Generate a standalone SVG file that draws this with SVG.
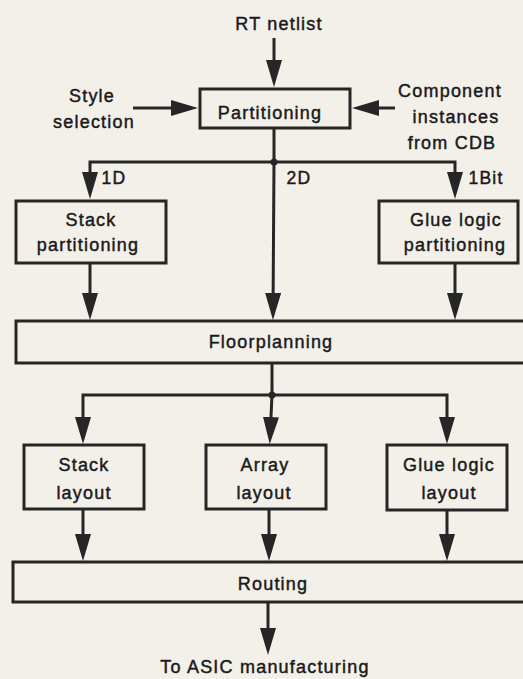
<svg xmlns="http://www.w3.org/2000/svg" width="523" height="679" viewBox="0 0 523 679">
<style>
.box{fill:none;stroke:#262626;stroke-width:3}
.ln{fill:none;stroke:#262626;stroke-width:3}
text{font-family:"Liberation Sans",Arial,sans-serif;font-size:18px;fill:#1a1a1a;stroke:#1a1a1a;stroke-width:0.45;letter-spacing:1.2px;text-anchor:middle}
.lbl{font-size:17.5px}
</style>
<defs>
<marker id="ah" markerUnits="userSpaceOnUse" markerWidth="27" markerHeight="16" viewBox="0 0 27 16" refX="21" refY="8" orient="auto">
<path d="M0,0 L27,8 L0,16 z" fill="#262626"/>
</marker>
</defs>
<rect width="523" height="679" fill="#f3f0ea"/>
<g id="connectors">
<path class="ln" d="M274,38 V81" marker-end="url(#ah)"/>
<path class="ln" d="M133,108 H192" marker-end="url(#ah)"/>
<path class="ln" d="M395,108 H358" marker-end="url(#ah)"/>
<path class="ln" d="M274,128 V162 H90 V193" marker-end="url(#ah)"/>
<path class="ln" d="M274,162 H455 V193" marker-end="url(#ah)"/>
<path class="ln" d="M274,162 L273,314" marker-end="url(#ah)"/>
<circle cx="274" cy="162" r="3.5" fill="#262626"/>
<path class="ln" d="M90,263 V314" marker-end="url(#ah)"/>
<path class="ln" d="M455,263 V314" marker-end="url(#ah)"/>
<path class="ln" d="M272,363 V395 H83 V438" marker-end="url(#ah)"/>
<path class="ln" d="M272,395 H447 V438" marker-end="url(#ah)"/>
<path class="ln" d="M272,395 L270,438" marker-end="url(#ah)"/>
<circle cx="272" cy="395" r="3.5" fill="#262626"/>
<path class="ln" d="M83,509 V555" marker-end="url(#ah)"/>
<path class="ln" d="M269,509 V555" marker-end="url(#ah)"/>
<path class="ln" d="M447,510 V555" marker-end="url(#ah)"/>
<path class="ln" d="M268,602 V649" marker-end="url(#ah)"/>
<text class="lbl" x="114" y="184">1D</text>
<text class="lbl" x="299" y="184">2D</text>
<text class="lbl" x="486" y="184">1Bit</text>
</g>
<g id="rt-netlist"><text x="279" y="30">RT netlist</text></g>
<g id="style-selection"><text x="92" y="102">Style</text><text x="94" y="128">selection</text></g>
<g id="component-instances"><text x="450" y="97">Component</text><text x="456" y="123">instances</text><text x="452" y="149">from CDB</text></g>
<g id="partitioning"><rect class="box" x="200" y="89" width="150" height="39"/><text x="270" y="119">Partitioning</text></g>
<g id="stack-partitioning"><rect class="box" x="16" y="201" width="150" height="62"/><text x="91" y="226">Stack</text><text x="88" y="251">partitioning</text></g>
<g id="glue-logic-partitioning"><rect class="box" x="379" y="201" width="139" height="62"/><text x="456" y="226">Glue logic</text><text x="455" y="251">partitioning</text></g>
<g id="floorplanning"><rect class="box" x="16" y="321" width="520" height="42"/><text x="271" y="348">Floorplanning</text></g>
<g id="stack-layout"><rect class="box" x="24" y="445" width="120" height="64"/><text x="84" y="471">Stack</text><text x="84" y="499">layout</text></g>
<g id="array-layout"><rect class="box" x="206" y="445" width="120" height="64"/><text x="265" y="471">Array</text><text x="264" y="499">layout</text></g>
<g id="glue-logic-layout"><rect class="box" x="387" y="445" width="120" height="65"/><text x="449" y="471">Glue logic</text><text x="449" y="499">layout</text></g>
<g id="routing"><rect class="box" x="13" y="562" width="520" height="40"/><text x="273" y="590">Routing</text></g>
<g id="asic"><text x="265" y="673">To ASIC manufacturing</text></g>
</svg>
